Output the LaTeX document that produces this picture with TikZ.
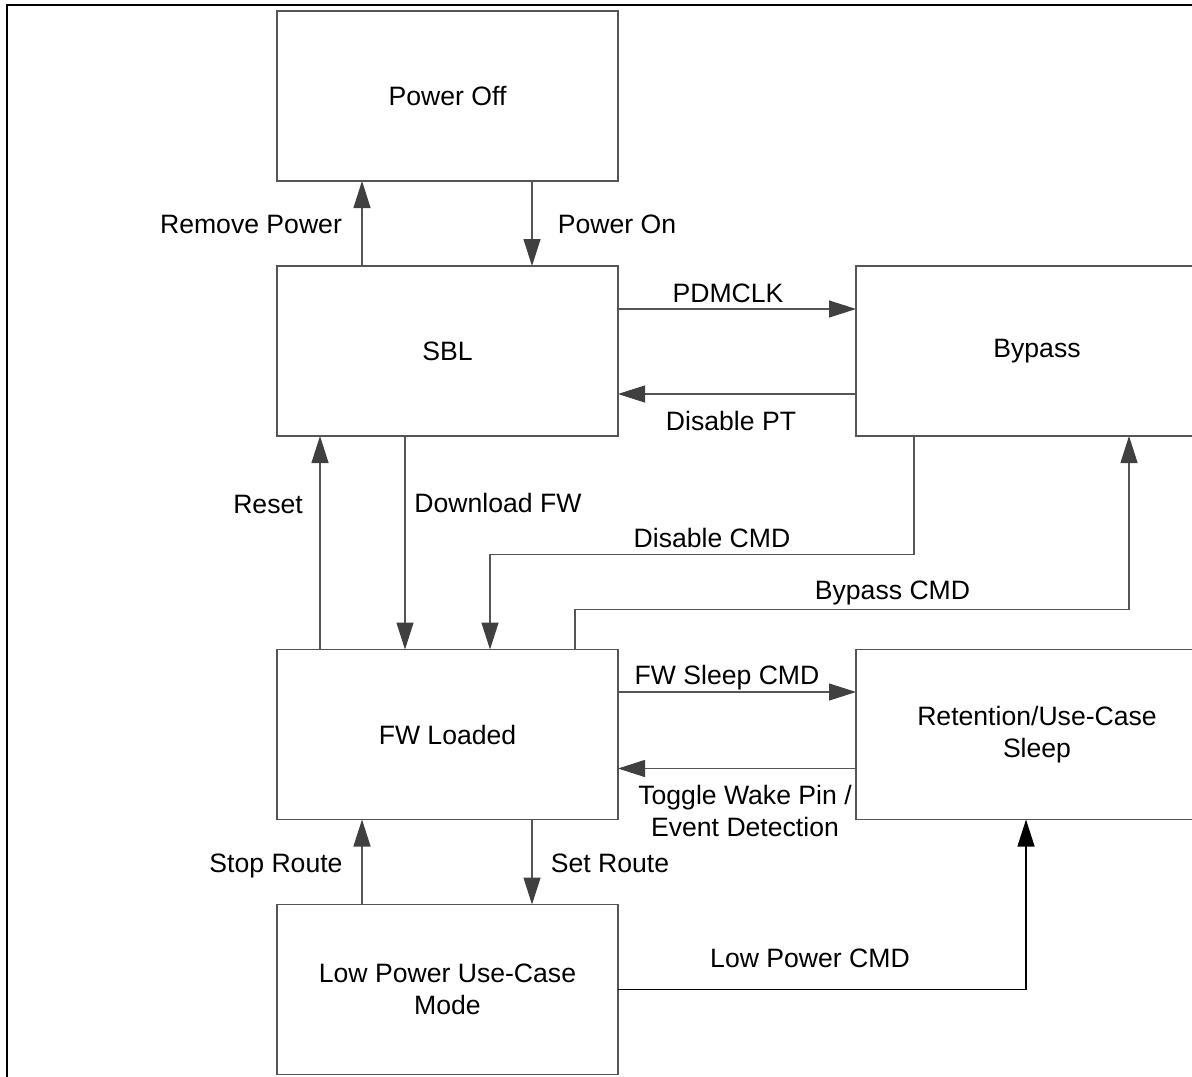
\documentclass[tikz,border=0pt]{standalone}
\usepackage{fontspec}
\setmainfont{Liberation Sans}
\usetikzlibrary{arrows.meta,positioning}
\definecolor{edgegray}{RGB}{85,85,85}
\definecolor{tipgray}{RGB}{64,64,64}
\tikzset{
  stbox/.style={draw=edgegray, line width=0.6pt, minimum width=170.5pt, minimum height=85pt,
    inner sep=0pt, outer sep=0pt, align=center},
  widebox/.style={minimum width=181pt},
  trans/.style={draw=edgegray, line width=0.6pt, -{Triangle[length=13.5pt,width=8.5pt,color=tipgray]}},
  lbl/.style={inner sep=0pt, anchor=base},
}
\begin{document}
\begin{tikzpicture}[x=0.5pt, y=-0.5pt, font=\fontsize{13.3pt}{16pt}\selectfont]
      \useasboundingbox (0,0) rectangle (1192,1076);
      \clip (0,0) rectangle (1192,1076);
      \draw[line width=1.3pt] (7,1080) -- (7,5) -- (1200,5);
      % Define nodes
      \node[stbox]           (off) at (447.5,96)    {Power Off};
      \node[stbox]           (sbl) at (447.5,351)   {SBL};
      \node[stbox]           (fw)  at (447.5,734.5) {FW Loaded};
      \node[stbox]           (lp)  at (447.5,989.5) {Low Power Use-Case\\Mode};
      \node[stbox, widebox]  (byp) at (1037,351)    {Bypass};
      \node[stbox, widebox]  (ret) at (1037,734.5)  {Retention/Use-Case\\Sleep};
      % Connect nodes
      \draw[trans] ([shift={(-85.5,0)}]sbl.north) -- ([shift={(-85.5,0)}]off.south);
      \draw[trans] ([shift={(84.5,0)}]off.south) -- ([shift={(84.5,0)}]sbl.north);
      \draw[trans] ([shift={(0,-42)}]sbl.east) -- ([shift={(0,-42)}]byp.west);
      \draw[trans] ([shift={(0,43)}]byp.west) -- ([shift={(0,43)}]sbl.east);
      \draw[trans] ([shift={(-127.5,0)}]fw.north) -- ([shift={(-127.5,0)}]sbl.south);
      \draw[trans] ([shift={(-42.5,0)}]sbl.south) -- ([shift={(-42.5,0)}]fw.north);
      \draw[trans] ([shift={(-123,0)}]byp.south) -- ++(0,118.5) -| ([shift={(42.5,0)}]fw.north);
      \draw[trans] ([shift={(127.5,0)}]fw.north) -- ++(0,-40) -| ([shift={(92,0)}]byp.south);
      \draw[trans] ([shift={(0,-42.5)}]fw.east) -- ([shift={(0,-42.5)}]ret.west);
      \draw[trans] ([shift={(0,34)}]ret.west) -- ([shift={(0,34)}]fw.east);
      \draw[trans] ([shift={(-85.5,0)}]lp.north) -- ([shift={(-85.5,0)}]fw.south);
      \draw[trans] ([shift={(84.5,0)}]fw.south) -- ([shift={(84.5,0)}]lp.north);
      \draw[trans, draw=black, -{Triangle[length=13.5pt,width=8.5pt,color=black]}]
        (lp.east) -| ([shift={(-11,0)}]ret.south);
      % Labels
      \node[lbl] (lremove)  at (251,233)   {Remove Power};
      \node[lbl] (lon)      at (617,233)   {Power On};
      \node[lbl] (lpdm)     at (728,302)   {PDMCLK};
      \node[lbl] (lpt)      at (731,430)   {Disable PT};
      \node[lbl] (lreset)   at (268,513)   {Reset};
      \node[lbl] (ldown)    at (498,512)   {Download FW};
      \node[lbl] (ldiscmd)  at (712,547)   {Disable CMD};
      \node[lbl] (lbypcmd)  at (892.5,599) {Bypass CMD};
      \node[lbl] (lsleep)   at (727,684.5) {FW Sleep CMD};
      \node[inner sep=0pt, align=center] (lwake) at (745,811) {Toggle Wake Pin /\\Event Detection};
      \node[lbl] (lstop)    at (276,872)   {Stop Route};
      \node[lbl] (lset)     at (610,872)   {Set Route};
      \node[lbl] (llow)     at (810,967)   {Low Power CMD};
\end{tikzpicture}
\end{document}
